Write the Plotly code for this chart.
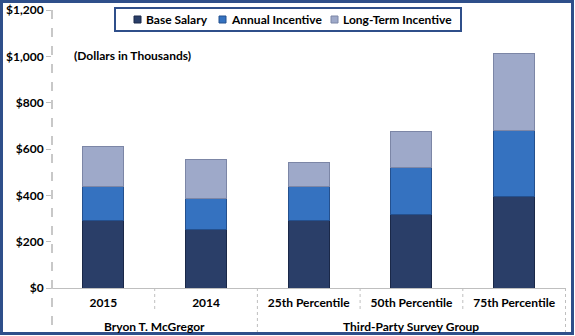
import plotly.graph_objects as go

# Compensation components (dollars in thousands)
categories = ["2015", "2014", "25th Percentile", "50th Percentile", "75th Percentile"]
groups = ["Bryon T. McGregor", "Bryon T. McGregor",
          "Third-Party Survey Group", "Third-Party Survey Group", "Third-Party Survey Group"]
base_salary = [292, 253, 292, 318, 397]
annual_incentive = [145, 133, 145, 202, 281]
long_term_incentive = [172, 168, 103, 156, 335]

y_ticks = [0, 200, 400, 600, 800, 1000, 1200]
y_labels = ["$0", "$200", "$400", "$600", "$800", "$1,000", "$1,200"]

FONT = "Lato"
FS = 12
W, H = 575, 336
ML, MR, MT, MB = 52, 9, 10, 48
PW, PH = W - ML - MR, H - MT - MB

series = [
    ("Base Salary", base_salary, "#2A3E68", "#1A2848"),
    ("Annual Incentive", annual_incentive, "#3572C0", "#24508E"),
    ("Long-Term Incentive", long_term_incentive, "#9EA9C9", "#7C86A6"),
]

fig = go.Figure()
for name, vals, color, edge in series:
    fig.add_trace(go.Bar(
        x=categories, y=vals, name=name, width=0.4, showlegend=False,
        marker=dict(color=color, line=dict(color=edge, width=1)),
    ))

def py(pix):
    """Pixel row (from the top of the page) to paper y."""
    return (H - MB - pix) / PH

def px(pix):
    return (pix - ML) / PW

shapes = []
annotations = []
div_style = dict(color="#BFBFBF", width=1, dash="dot")
# dividers between categories; full height between groups
for i in range(len(categories) - 1):
    full = groups[i] != groups[i + 1]
    shapes.append(dict(type="line", xref="x", yref="paper",
                       x0=i + 0.5, x1=i + 0.5, y0=0, y1=py(333) if full else py(311),
                       line=div_style))
# outer edges of the category table
shapes.append(dict(type="line", xref="x", yref="paper",
                   x0=len(categories) - 0.5, x1=len(categories) - 0.5,
                   y0=0, y1=py(333), line=div_style))
shapes.append(dict(type="line", xref="paper", yref="paper",
                   x0=0, x1=0, y0=1, y1=py(333),
                   line=dict(color="#C8C8C8", width=2, dash="dash")))
# chart frame
shapes.append(dict(type="rect", xref="paper", yref="paper",
                   x0=px(1.5), x1=px(W - 2.5), y0=py(1.5), y1=py(H - 2.5),
                   line=dict(color="#2F4F8A", width=3)))

# legend box with swatches
shapes.append(dict(type="rect", xref="paper", yref="paper",
                   x0=px(115), x1=px(461), y0=py(8), y1=py(31),
                   fillcolor="white", line=dict(color="#2F4F8A", width=2)))
legend_x = [134, 219, 331]
for (name, _, color, edge), lx in zip(series, legend_x):
    shapes.append(dict(type="rect", xref="paper", yref="paper",
                       x0=px(lx), x1=px(lx + 7), y0=py(16), y1=py(23),
                       fillcolor=color, line=dict(color=edge, width=1)))
    annotations.append(dict(x=px(lx + 10), xref="paper", y=py(19.5), yref="paper",
                            xanchor="left", yanchor="middle",
                            text=f"<b>{name}</b>", showarrow=False,
                            font=dict(family=FONT, size=FS, color="#000")))

seen = []
for g in groups:
    if g not in seen:
        seen.append(g)
for g in seen:
    idx = [i for i, v in enumerate(groups) if v == g]
    annotations.append(dict(x=sum(idx) / len(idx), xref="x", y=py(326), yref="paper",
                            yanchor="middle", text=f"<b>{g}</b>", showarrow=False,
                            font=dict(family=FONT, size=FS, color="#000")))
annotations.append(dict(x=px(72), xref="paper", y=py(56), yref="paper",
                        xanchor="left", yanchor="middle",
                        text="<b>(Dollars in Thousands)</b>", showarrow=False,
                        font=dict(family=FONT, size=FS, color="#000")))

fig.update_layout(
    barmode="stack",
    width=W, height=H,
    margin=dict(l=ML, r=MR, t=MT, b=MB, autoexpand=False),
    paper_bgcolor="white", plot_bgcolor="white",
    font=dict(family=FONT, size=FS, color="#000"),
    showlegend=False,
    shapes=shapes,
    annotations=annotations,
)
fig.update_xaxes(type="category", showgrid=False, showline=True,
                 linecolor="#BFBFBF", linewidth=1, ticks="",
                 tickfont=dict(family=FONT, size=FS, color="#000"),
                 ticklabelstandoff=4, automargin=False,
                 tickvals=categories, ticktext=[f"<b>{c}</b>" for c in categories])
fig.update_yaxes(range=[0, 1200], showgrid=False, zeroline=False, showline=False,
                 tickvals=y_ticks, ticktext=[f"<b>{t}</b>" for t in y_labels],
                 ticks="outside", ticklen=5, tickcolor="#BFBFBF", automargin=False,
                 tickfont=dict(family=FONT, size=FS, color="#000"))

fig.write_html("out.html")
